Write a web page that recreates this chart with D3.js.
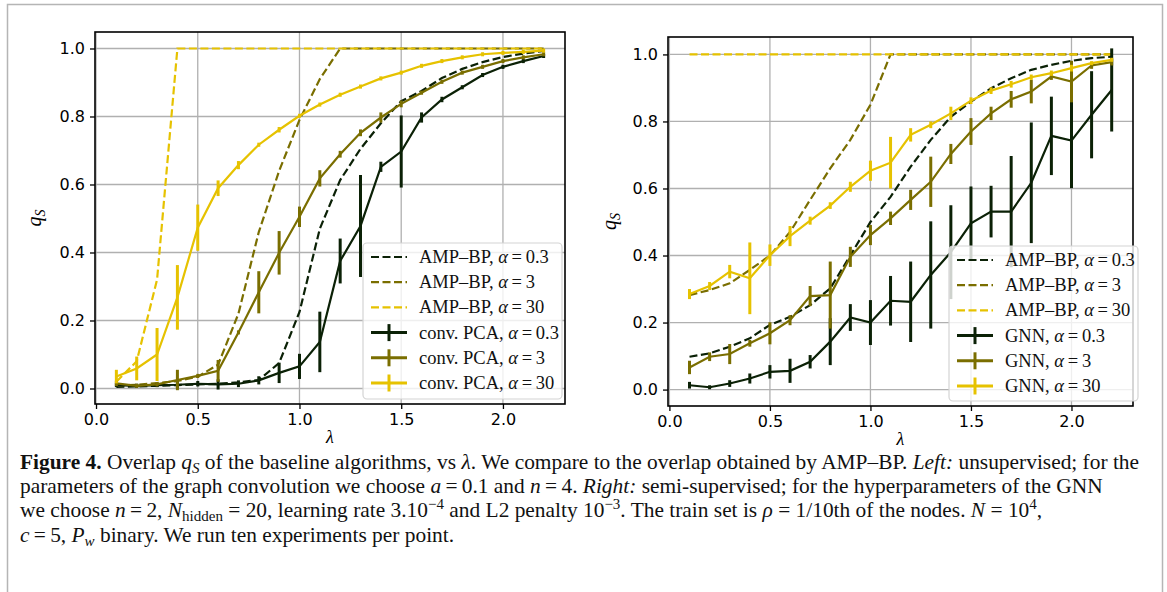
<!DOCTYPE html>
<html>
<head>
<meta charset="utf-8">
<script src="https://cdn.jsdelivr.net/npm/d3@7"></script>
<style>
  body { margin: 0; background: #fff; }
  svg { display: block; }
</style>
</head>
<body>
<div id="fig"></div>
<script>
// lambda grid shared by every series
const lambdas = [0.1, 0.2, 0.3, 0.4, 0.5, 0.6, 0.7, 0.8, 0.9, 1.0, 1.1,
                 1.2, 1.3, 1.4, 1.5, 1.6, 1.7, 1.8, 1.9, 2.0, 2.1, 2.2];
const xTicks = [0.0, 0.5, 1.0, 1.5, 2.0];
const yTicks = [0.0, 0.2, 0.4, 0.6, 0.8, 1.0];

// left panel: AMP-BP (dashed) and conv. PCA (error bars)
const ampLeft03 = [0.005, 0.006, 0.008, 0.010, 0.012, 0.014, 0.018, 0.025, 0.075, 0.225, 0.47,
                   0.613, 0.705, 0.78, 0.845, 0.875, 0.913, 0.94, 0.96, 0.975, 0.985, 0.993];
const ampLeft3 = [0.008, 0.011, 0.016, 0.022, 0.035, 0.07, 0.22, 0.46, 0.64, 0.79, 0.91,
                  1, 1, 1, 1, 1, 1, 1, 1, 1, 1, 1];
const ampLeft30 = [0.02, 0.08, 0.32, 1, 1, 1, 1, 1, 1, 1, 1,
                   1, 1, 1, 1, 1, 1, 1, 1, 1, 1, 1];
const pcaLeft03 = [0.010, 0.008, 0.010, 0.011, 0.014, 0.012, 0.014, 0.024, 0.046, 0.065, 0.137,
                   0.375, 0.478, 0.652, 0.697, 0.797, 0.85, 0.886, 0.922, 0.946, 0.963, 0.978];
const pcaLeft03Err = [0.005, 0.004, 0.005, 0.01, 0.008, 0.015, 0.01, 0.012, 0.03, 0.037, 0.089,
                      0.066, 0.15, 0.015, 0.106, 0.015, 0.008, 0.005, 0.005, 0.004, 0.004, 0.004];
const pcaLeft3 = [0.015, 0.008, 0.012, 0.025, 0.037, 0.052, 0.165, 0.283, 0.399, 0.505, 0.618,
                  0.689, 0.752, 0.797, 0.837, 0.87, 0.902, 0.929, 0.946, 0.963, 0.974, 0.983];
const pcaLeft3Err = [0.008, 0.004, 0.005, 0.03, 0.005, 0.032, 0.004, 0.062, 0.064, 0.03, 0.024,
                     0.01, 0.01, 0.015, 0.01, 0.006, 0.004, 0.004, 0.004, 0.003, 0.003, 0.003];
const pcaLeft30 = [0.035, 0.059, 0.10, 0.268, 0.473, 0.589, 0.657, 0.717, 0.761, 0.802, 0.835,
                   0.864, 0.888, 0.912, 0.929, 0.949, 0.963, 0.974, 0.983, 0.987, 0.99, 0.994];
const pcaLeft30Err = [0.02, 0.035, 0.078, 0.095, 0.068, 0.023, 0.012, 0.005, 0.008, 0.005, 0.005,
                      0.005, 0.004, 0.004, 0.004, 0.003, 0.003, 0.003, 0.003, 0.002, 0.002, 0.002];

// right panel: AMP-BP (dashed) and GNN (error bars)
const ampRight03 = [0.098, 0.108, 0.128, 0.153, 0.193, 0.217, 0.252, 0.302, 0.40, 0.5, 0.575,
                    0.665, 0.745, 0.814, 0.859, 0.899, 0.929, 0.954, 0.969, 0.981, 0.989, 0.993];
const ampRight3 = [0.282, 0.297, 0.317, 0.357, 0.40, 0.47, 0.566, 0.66, 0.745, 0.85, 1,
                   1, 1, 1, 1, 1, 1, 1, 1, 1, 1, 1];
const ampRight30 = [1, 1, 1, 1, 1, 1, 1, 1, 1, 1, 1,
                    1, 1, 1, 1, 1, 1, 1, 1, 1, 1, 1];
const gnn03 = [0.013, 0.007, 0.018, 0.033, 0.053, 0.056, 0.083, 0.143, 0.215, 0.2, 0.265,
               0.262, 0.342, 0.41, 0.496, 0.531, 0.531, 0.617, 0.757, 0.743, 0.82, 0.894];
const gnn03Err = [0.01, 0.005, 0.01, 0.015, 0.02, 0.036, 0.02, 0.07, 0.04, 0.067, 0.074,
                  0.12, 0.16, 0.14, 0.11, 0.077, 0.166, 0.18, 0.117, 0.142, 0.13, 0.124];
const gnn3 = [0.066, 0.098, 0.106, 0.138, 0.168, 0.207, 0.279, 0.282, 0.396, 0.461, 0.511,
              0.566, 0.62, 0.703, 0.77, 0.824, 0.866, 0.889, 0.934, 0.919, 0.967, 0.977];
const gnn3Err = [0.02, 0.013, 0.03, 0.01, 0.033, 0.015, 0.03, 0.1, 0.03, 0.03, 0.02,
                 0.03, 0.075, 0.03, 0.04, 0.02, 0.025, 0.035, 0.01, 0.062, 0.01, 0.01];
const gnn30 = [0.285, 0.309, 0.352, 0.332, 0.401, 0.458, 0.504, 0.549, 0.605, 0.653, 0.677,
               0.76, 0.79, 0.824, 0.862, 0.892, 0.911, 0.932, 0.944, 0.959, 0.974, 0.984];
const gnn30Err = [0.015, 0.012, 0.02, 0.107, 0.032, 0.03, 0.012, 0.01, 0.015, 0.03, 0.077,
                  0.02, 0.01, 0.02, 0.01, 0.01, 0.01, 0.008, 0.008, 0.01, 0.006, 0.006];

const alphas = ["0.3", "3", "30"];
const colors = ["#0b2106", "#7a6e00", "#e6c200"];

const W = 1167, H = 592;
const svg = d3.select("#fig").append("svg")
    .attr("width", W).attr("height", H);

// outer page frame
svg.append("rect")
    .attr("x", 7.5).attr("y", 4.5)
    .attr("width", 1155).attr("height", 640)
    .attr("fill", "none").attr("stroke", "#b5b5b5").attr("stroke-width", 1.5);

const tickFont = "'DejaVu Sans', sans-serif";
const serif = "'Liberation Serif', 'Times New Roman', serif";

function drawPanel(p) {
    const x = d3.scaleLinear().domain(p.xDomain).range([p.x0, p.x1]);
    const y = d3.scaleLinear().domain(p.yDomain).range([p.y1, p.y0]);
    const g = svg.append("g");

    // grid
    g.append("g").selectAll("line").data(xTicks).enter().append("line")
        .attr("x1", d => x(d)).attr("x2", d => x(d))
        .attr("y1", p.y0).attr("y2", p.y1)
        .attr("stroke", "#b0b0b0").attr("stroke-width", 1.3);
    g.append("g").selectAll("line").data(yTicks).enter().append("line")
        .attr("x1", p.x0).attr("x2", p.x1)
        .attr("y1", d => y(d)).attr("y2", d => y(d))
        .attr("stroke", "#b0b0b0").attr("stroke-width", 1.3);

    const line = d3.line().x(d => x(d[0])).y(d => y(d[1]));

    // AMP-BP dashed curves
    p.amp.forEach((vals, i) => {
        g.append("path")
            .datum(lambdas.map((l, k) => [l, vals[k]]))
            .attr("d", line)
            .attr("fill", "none")
            .attr("stroke", colors[i])
            .attr("stroke-width", 2.2)
            .attr("stroke-dasharray", "8,3.5");
    });

    // baseline curves with error bars
    p.base.forEach((s, i) => {
        const pts = lambdas.map((l, k) => [l, s.v[k], s.e[k]]);
        g.append("path")
            .datum(pts)
            .attr("d", line)
            .attr("fill", "none")
            .attr("stroke", colors[i])
            .attr("stroke-width", 2.2);
        g.append("g").selectAll("line").data(pts).enter().append("line")
            .attr("x1", d => x(d[0])).attr("x2", d => x(d[0]))
            .attr("y1", d => y(d[1] - Math.max(d[2], 0.006)))
            .attr("y2", d => y(d[1] + Math.max(d[2], 0.006)))
            .attr("stroke", colors[i])
            .attr("stroke-width", 3);
    });

    // spines
    g.append("rect")
        .attr("x", p.x0).attr("y", p.y0)
        .attr("width", p.x1 - p.x0).attr("height", p.y1 - p.y0)
        .attr("fill", "none").attr("stroke", "#000").attr("stroke-width", 1.6);

    // axes
    const xa = g.append("g")
        .attr("transform", `translate(0,${p.y1})`)
        .call(d3.axisBottom(x).tickValues(xTicks).tickFormat(d3.format(".1f"))
            .tickSize(5).tickPadding(5));
    const ya = g.append("g")
        .attr("transform", `translate(${p.x0},0)`)
        .call(d3.axisLeft(y).tickValues(yTicks).tickFormat(d3.format(".1f"))
            .tickSize(5).tickPadding(5));
    [xa, ya].forEach(a => {
        a.select(".domain").remove();
        a.selectAll(".tick line").attr("stroke", "#000").attr("stroke-width", 1.3);
        a.selectAll(".tick text")
            .attr("fill", "#000")
            .style("font-family", tickFont)
            .style("font-size", "16px");
    });

    // axis labels
    g.append("text")
        .attr("x", (p.x0 + p.x1) / 2).attr("y", p.y1 + 39)
        .attr("text-anchor", "middle")
        .style("font-family", serif).style("font-style", "italic")
        .style("font-size", "18px")
        .text("λ");
    const yl = g.append("text")
        .attr("transform", `translate(${p.ylabelX},${(p.y0 + p.y1) / 2}) rotate(-90)`)
        .attr("text-anchor", "middle")
        .style("font-family", serif).style("font-style", "italic")
        .style("font-size", "20px");
    yl.append("tspan").text("q");
    yl.append("tspan").attr("dy", 4).style("font-size", "14px").text("S");

    // legend
    const lg = g.append("g");
    lg.append("rect")
        .attr("x", p.leg.x).attr("y", p.leg.y)
        .attr("width", p.leg.w).attr("height", p.leg.h)
        .attr("rx", 4)
        .attr("fill", "#fff").attr("fill-opacity", 0.8)
        .attr("stroke", "#d4d4d4").attr("stroke-width", 1.2);
    const entries = [];
    alphas.forEach((a, i) => entries.push({name: "AMP–BP", a: a, c: colors[i], dash: true}));
    alphas.forEach((a, i) => entries.push({name: p.baseName, a: a, c: colors[i], dash: false}));
    entries.forEach((en, k) => {
        const ry = p.leg.y + 14 + k * 25.2;
        const hx = p.leg.x + 8;
        lg.append("line")
            .attr("x1", hx).attr("x2", hx + 36)
            .attr("y1", ry).attr("y2", ry)
            .attr("stroke", en.c)
            .attr("stroke-width", en.dash ? 2.2 : 3)
            .attr("stroke-dasharray", en.dash ? "8,3.5" : null);
        if (!en.dash) {
            lg.append("line")
                .attr("x1", hx + 18).attr("x2", hx + 18)
                .attr("y1", ry - 8.5).attr("y2", ry + 8.5)
                .attr("stroke", en.c).attr("stroke-width", 3);
        }
        const t = lg.append("text")
            .attr("x", hx + 48).attr("y", ry + 6)
            .style("font-family", serif).style("font-size", "18.5px")
            .attr("fill", "#111");
        t.append("tspan").text(en.name + ", ");
        t.append("tspan").style("font-style", "italic").text("α");
        t.append("tspan").text("\u2009=\u2009" + en.a);
    });
}

drawPanel({
    x0: 95, x1: 565, y0: 32, y1: 404,
    xDomain: [-0.005, 2.305], yDomain: [-0.0456, 1.0485],
    ylabelX: 41,
    amp: [ampLeft03, ampLeft3, ampLeft30],
    base: [{v: pcaLeft03, e: pcaLeft03Err}, {v: pcaLeft3, e: pcaLeft3Err}, {v: pcaLeft30, e: pcaLeft30Err}],
    baseName: "conv. PCA",
    leg: {x: 363, y: 243, w: 199, h: 156}
});

drawPanel({
    x0: 668, x1: 1133, y0: 37, y1: 406,
    xDomain: [-0.007, 2.306], yDomain: [-0.049, 1.052],
    ylabelX: 616,
    amp: [ampRight03, ampRight3, ampRight30],
    base: [{v: gnn03, e: gnn03Err}, {v: gnn3, e: gnn3Err}, {v: gnn30, e: gnn30Err}],
    baseName: "GNN",
    leg: {x: 949, y: 246, w: 189, h: 155}
});

// caption
const captionLines = [
    [{t: "Figure 4.", b: 1}, {t: " Overlap "}, {t: "q", i: 1}, {t: "S", i: 1, sub: 1},
     {t: " of the baseline algorithms, vs "}, {t: "λ", i: 1},
     {t: ". We compare to the overlap obtained by AMP–BP. "}, {t: "Left:", i: 1},
     {t: " unsupervised; for the"}],
    [{t: "parameters of the graph convolution we choose "}, {t: "a", i: 1}, {t: "\u2009=\u20090.1 and "},
     {t: "n", i: 1}, {t: "\u2009=\u20094. "}, {t: "Right:", i: 1},
     {t: " semi-supervised; for the hyperparameters of the GNN"}],
    [{t: "we choose "}, {t: "n", i: 1}, {t: "\u2009=\u20092, "}, {t: "N", i: 1}, {t: "hidden", sub: 1},
     {t: " = 20, learning rate 3.10"}, {t: "−4", sup: 1}, {t: " and L2 penalty 10"}, {t: "−3", sup: 1},
     {t: ". The train set is "}, {t: "ρ", i: 1}, {t: " = 1/10th of the nodes. "}, {t: "N", i: 1},
     {t: " = 10"}, {t: "4", sup: 1}, {t: ","}],
    [{t: "c", i: 1}, {t: "\u2009=\u20095, "}, {t: "P", i: 1}, {t: "w", i: 1, sub: 1},
     {t: " binary. We run ten experiments per point."}]
];

const cap = svg.append("g");
captionLines.forEach((segs, k) => {
    const t = cap.append("text")
        .attr("x", 20).attr("y", 469 + k * 24.2)
        .style("font-family", serif).style("font-size", "21.4px")
        .attr("fill", "#111");
    let shift = 0;
    segs.forEach(s => {
        const target = s.sub ? 4 : s.sup ? -8 : 0;
        const ts = t.append("tspan").text(s.t);
        if (target !== shift) { ts.attr("dy", target - shift); shift = target; }
        if (s.sub || s.sup) ts.style("font-size", "15px");
        if (s.i) ts.style("font-style", "italic");
        if (s.b) ts.style("font-weight", "bold");
    });
});
</script>
</body>
</html>
